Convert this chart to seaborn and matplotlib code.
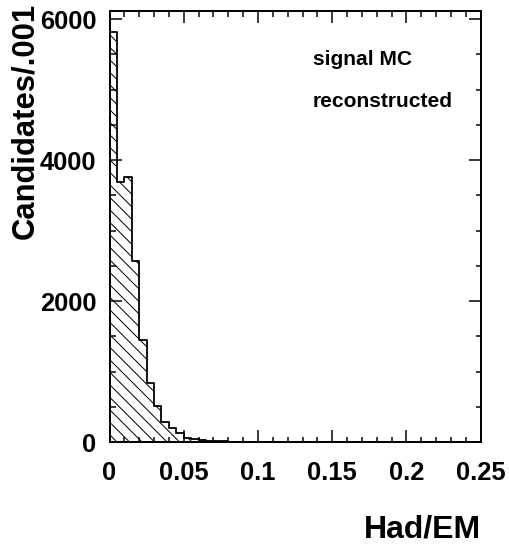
import numpy as np
import pandas as pd
import matplotlib
matplotlib.use("Agg")
import matplotlib.pyplot as plt
from matplotlib.ticker import MultipleLocator, FixedLocator
import seaborn as sns

# ---- data ----
bin_width = 0.005
counts = [5820, 3690, 3760, 2570, 1450, 835, 515, 290, 195, 125,
          62, 43, 28, 18, 12, 8, 5, 4, 3, 2, 1, 1]
x_ticks = [0, 0.05, 0.1, 0.15, 0.2, 0.25]
x_tick_labels = ["0", "0.05", "0.1", "0.15", "0.2", "0.25"]
y_ticks = [0, 2000, 4000, 6000]
y_tick_labels = ["0", "2000", "4000", "6000"]

edges = [round(i * bin_width, 6) for i in range(len(counts) + 1)]
centers = [(a + b) / 2 for a, b in zip(edges[:-1], edges[1:])]
df = pd.DataFrame({"had_em": centers, "n": counts})

# ---- style ----
DPI = 75
W, H = 509, 545
def pt(px):
    return px * 72.0 / DPI

sns.set_theme(style="ticks")
plt.rcParams["font.family"] = ["Liberation Sans", "DejaVu Sans"]
plt.rcParams["font.weight"] = "bold"
plt.rcParams["hatch.linewidth"] = pt(1.0)

fig = plt.figure(figsize=(W / DPI, H / DPI), dpi=DPI)
left, right, top, bottom = 109.5, 480.7, 10.7, 442.0
ax = fig.add_axes([left / W, 1 - bottom / H, (right - left) / W, (bottom - top) / H])

sns.histplot(data=df, x="had_em", weights="n", bins=edges, element="step",
             fill=True, ax=ax, color="black", linewidth=pt(1.8))
for coll in ax.collections:
    coll.set_facecolor("none")
    coll.set_edgecolor("black")
    coll.set_hatch("\\\\")
    coll.set_linewidth(pt(1.8))
    coll.set_alpha(1)

ax.set_xlim(0, 0.25)
ax.set_ylim(0, 6120)
ax.xaxis.set_major_locator(FixedLocator(x_ticks))
ax.set_xticklabels(x_tick_labels)
ax.yaxis.set_major_locator(FixedLocator(y_ticks))
ax.set_yticklabels(y_tick_labels)
ax.xaxis.set_minor_locator(MultipleLocator(0.01))
ax.yaxis.set_minor_locator(MultipleLocator(500))

ax.tick_params(which="both", direction="in", top=True, right=True,
               labeltop=False, labelright=False, color="black")
ax.tick_params(which="major", length=pt(12), width=pt(1.5))
ax.tick_params(which="minor", length=pt(5.5), width=pt(1.5))
ax.tick_params(axis="x", which="major", pad=pt(19), labelsize=pt(25.5))
ax.tick_params(axis="y", which="major", pad=pt(13), labelsize=pt(25.5))
for lab in ax.get_xticklabels() + ax.get_yticklabels():
    lab.set_fontweight("bold")
    lab.set_color("black")

for s in ax.spines.values():
    s.set_visible(True)
    s.set_linewidth(pt(2))
    s.set_color("black")

ax.set_xlabel("")
ax.set_ylabel("")

fig.text(25 / W, 1 - 3 / H, "Candidates/.001", rotation=90, ha="center", va="top",
         fontsize=pt(31), fontweight="bold", color="black")
fig.text(right / W, 1 - 530 / H, "Had/EM", ha="right", va="center",
         fontsize=pt(32), fontweight="bold", color="black")
fig.text(313 / W, 1 - 65 / H, "signal MC", ha="left", va="baseline",
         fontsize=pt(21), fontweight="bold", color="black")
fig.text(313 / W, 1 - 107 / H, "reconstructed", ha="left", va="baseline",
         fontsize=pt(21), fontweight="bold", color="black")

fig.savefig("out.png", dpi=DPI)
